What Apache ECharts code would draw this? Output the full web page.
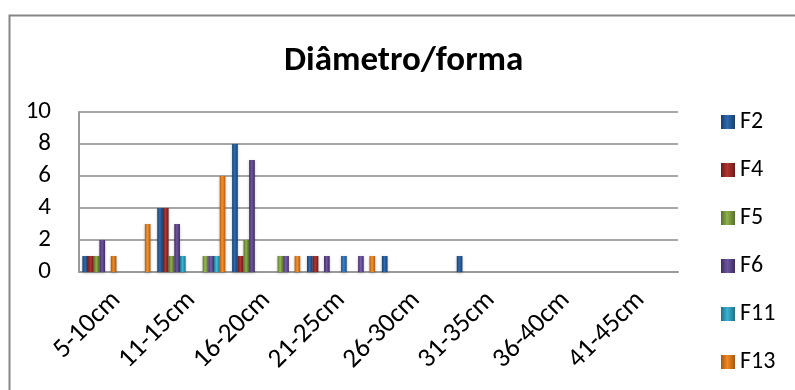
<!DOCTYPE html>
<html>
<head>
<meta charset="utf-8">
<script src="https://cdn.jsdelivr.net/npm/echarts@6/dist/echarts.min.js"></script>
<style>
  html, body { margin: 0; padding: 0; background: #fff; }
  #chart { width: 795px; height: 390px; }
</style>
</head>
<body>
<div id="chart"></div>
<script>
const categories = ['5-10cm', '11-15cm', '16-20cm', '21-25cm', '26-30cm', '31-35cm', '36-40cm', '41-45cm'];
const seriesNames = ['F2', 'F4', 'F5', 'F6', 'F11', 'F13', 'F14', 'F15', 'F16', 'F17', 'F18', 'F19'];
const f2 = [1, 4, 8, 1, 1, 1, 0, 0];
const f4 = [1, 4, 1, 1, 0, 0, 0, 0];
const f5 = [1, 1, 2, 0, 0, 0, 0, 0];
const f6 = [2, 3, 7, 1, 0, 0, 0, 0];
const f11 = [0, 1, 0, 0, 0, 0, 0, 0];
const f13 = [1, 0, 0, 0, 0, 0, 0, 0];
const f14 = [0, 0, 0, 1, 0, 0, 0, 0];
const f15 = [0, 0, 0, 0, 0, 0, 0, 0];
const f16 = [0, 1, 1, 0, 0, 0, 0, 0];
const f17 = [0, 1, 1, 1, 0, 0, 0, 0];
const f18 = [0, 1, 0, 0, 0, 0, 0, 0];
const f19 = [3, 6, 1, 1, 0, 0, 0, 0];
const seriesValues = [f2, f4, f5, f6, f11, f13, f14, f15, f16, f17, f18, f19];
const yTicks = [0, 2, 4, 6, 8, 10];

// [edge, centre] shades, Excel 2007 style bars
const palette = [
  ['#173f6e', '#2f6bb0'],
  ['#6e1a19', '#b23532'],
  ['#55702a', '#8fb04a'],
  ['#3e2b5e', '#6f56a0'],
  ['#1d7189', '#3ab3d2'],
  ['#a8560f', '#f08a25'],
  ['#1d4f8a', '#3a7fcc'],
  ['#7e2220', '#c2403c'],
  ['#5d7a2e', '#98ba52'],
  ['#45316a', '#7a60ad'],
  ['#207b95', '#43bedc'],
  ['#b05c12', '#f5922c']
];

const barColor = ([edge, mid]) => new echarts.graphic.LinearGradient(0, 0, 1, 0, [
  { offset: 0, color: edge },
  { offset: 0.45, color: mid },
  { offset: 1, color: edge }
]);

const chart = echarts.init(document.querySelector('#chart'));
const fontFamily = 'Carlito, Lato, sans-serif';

chart.setOption({
  animation: false,
  title: {
    text: 'Diâmetro/forma',
    left: 279,
    top: 39,
    textStyle: { fontFamily, fontSize: 35, fontWeight: 'bold', color: '#000' }
  },
  legend: {
    orient: 'vertical',
    left: 716,
    top: 105,
    itemWidth: 14,
    itemHeight: 14,
    itemGap: 24,
    icon: 'rect',
    textStyle: { fontFamily, fontSize: 24, color: '#000' },
    data: seriesNames
  },
  grid: { left: 79, right: 117, top: 112, bottom: 118 },
  xAxis: {
    type: 'category',
    data: categories,
    axisLine: { lineStyle: { color: '#9a9a9a', width: 2 } },
    axisTick: { show: false },
    axisLabel: { rotate: 45, fontFamily, fontSize: 27, color: '#000', margin: 24, interval: 0 }
  },
  yAxis: {
    type: 'value',
    min: yTicks[0],
    max: yTicks[yTicks.length - 1],
    interval: 2,
    axisLine: { show: true, lineStyle: { color: '#9a9a9a', width: 2 } },
    axisTick: { show: false },
    axisLabel: { fontFamily, fontSize: 25, color: '#000', margin: 28 },
    splitLine: { lineStyle: { color: '#a6a6a6', width: 2 } }
  },
  series: seriesNames.map((name, i) => ({
    name,
    type: 'bar',
    data: seriesValues[i],
    barGap: 0,
    barCategoryGap: '9%',
    itemStyle: {
      color: barColor(palette[i]),
      shadowColor: 'rgba(0,0,0,0.25)',
      shadowBlur: 3,
      shadowOffsetY: 1
    }
  })),
  graphic: [
    {
      type: 'rect',
      left: 7,
      top: 13,
      shape: { width: 800, height: 400 },
      style: { fill: 'none', stroke: '#868686', lineWidth: 2 },
      silent: true
    }
  ]
});
</script>
</body>
</html>
